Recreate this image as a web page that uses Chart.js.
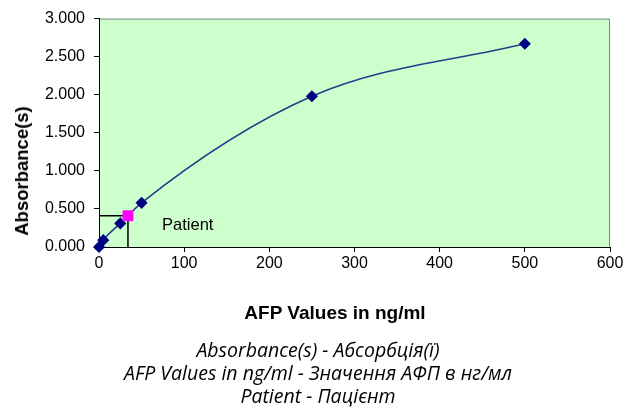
<!DOCTYPE html>
<html>
<head>
<meta charset="utf-8">
<script src="https://cdn.jsdelivr.net/npm/chart.js@4"></script>
<style>
  html, body { margin: 0; padding: 0; background: #ffffff; }
  #wrap { position: relative; width: 636px; height: 408px; }
  #myChart { position: absolute; left: 0; top: 0; }
  .ytitle { position: absolute; left: 22px; top: 171px; transform: translate(-50%, -50%) rotate(-90deg);
    font: bold 18.5px "Liberation Sans", Arial, sans-serif; color: #000; white-space: nowrap; }
  .xtitle { position: absolute; left: 335px; top: 313px; transform: translate(-50%, -50%);
    font: bold 19px "Liberation Sans", Arial, sans-serif; color: #000; white-space: nowrap; }
  .legend { position: absolute; left: 318px; transform: translate(-50%, -50%);
    font: italic 19.5px "Open Sans", sans-serif; color: #000; white-space: nowrap; }
</style>
</head>
<body>
<div id="wrap">
  <canvas id="myChart" width="636" height="408"></canvas>
  <div class="ytitle">Absorbance(s)</div>
  <div class="xtitle">AFP Values in ng/ml</div>
  <div class="legend" style="top:349px">Absorbance(s) - Абсорбція(ї)</div>
  <div class="legend" style="top:372px">AFP Values in ng/ml - Значення АФП в нг/мл</div>
  <div class="legend" style="top:395px">Patient - Пацієнт</div>
</div>
<script>
// standard curve
var afpValues = [0, 5, 25, 50, 250, 500];
var absorbance = [0, 0.09, 0.31, 0.58, 1.98, 2.67];

// patient result
var patientAfp = [34];
var patientAbs = [0.41];
var patientLabel = 'Patient';
var labelPos = { x: 74, y: 0.285 };

var xTicks = [0, 100, 200, 300, 400, 500, 600];
var yTicks = [0, 0.5, 1, 1.5, 2, 2.5, 3];

var curve = [];
for (var i = 0; i < afpValues.length; i++) {
    curve.push({ x: afpValues[i], y: absorbance[i] });
}
var patient = [{ x: patientAfp[0], y: patientAbs[0] }];
var guide = [
    { x: 0, y: patientAbs[0] },
    { x: patientAfp[0], y: patientAbs[0] },
    { x: patientAfp[0], y: 0 }
];

var plotArea = {
    id: 'plotArea',
    beforeDraw: function (chart) {
        var a = chart.chartArea, c = chart.ctx;
        c.save();
        c.fillStyle = '#ccffcc';
        c.fillRect(a.left, a.top, a.right - a.left, a.bottom - a.top);
        c.strokeStyle = '#808080';
        c.lineWidth = 1;
        c.beginPath();
        c.moveTo(a.left, a.top + 0.5);
        c.lineTo(a.right - 0.5, a.top + 0.5);
        c.lineTo(a.right - 0.5, a.bottom);
        c.stroke();
        c.restore();
    },
    afterDatasetsDraw: function (chart) {
        var c = chart.ctx;
        var px = chart.scales.x.getPixelForValue(labelPos.x);
        var py = chart.scales.y.getPixelForValue(labelPos.y);
        c.save();
        c.fillStyle = '#000';
        c.font = '16.5px "Liberation Sans", Arial, sans-serif';
        c.textAlign = 'left';
        c.textBaseline = 'middle';
        c.fillText(patientLabel, px, py);
        c.restore();
    }
};

var ctx = document.getElementById('myChart').getContext('2d');
var myChart = new Chart(ctx, {
    type: 'scatter',
    data: {
        datasets: [
            {
                data: patient,
                clip: false,
                backgroundColor: '#ff00ff',
                pointBackgroundColor: '#ff00ff',
                pointBorderColor: '#ff00ff',
                pointStyle: 'rect',
                pointRadius: 7
            },
            {
                data: curve,
                showLine: true,
                clip: false,
                borderColor: '#2a3a8a',
                borderWidth: 1.5,
                backgroundColor: '#000080',
                pointBackgroundColor: '#000080',
                pointBorderColor: '#000080',
                pointStyle: 'rectRot',
                pointRadius: 5,
                cubicInterpolationMode: 'monotone'
            },
            {
                data: guide,
                showLine: true,
                borderColor: '#000000',
                borderWidth: 1.5,
                pointRadius: 0,
                tension: 0
            }
        ]
    },
    options: {
        responsive: false,
        animation: false,
        layout: { padding: { top: 16, right: 26, left: 0, bottom: 0 } },
        plugins: { legend: { display: false }, tooltip: { enabled: false } },
        scales: {
            x: {
                type: 'linear',
                min: 0,
                max: 600,
                afterFit: function (s) { s.height = 161; },
                afterBuildTicks: function (s) { s.ticks = xTicks.map(function (v) { return { value: v }; }); },
                grid: { display: true, drawOnChartArea: false, drawTicks: true, tickLength: 5, color: '#000' },
                border: { display: true, color: '#000', width: 1 },
                ticks: {
                    color: '#000',
                    padding: 2,
                    font: { family: '"Liberation Sans", Arial, sans-serif', size: 16 }
                }
            },
            y: {
                type: 'linear',
                min: 0,
                max: 3,
                afterFit: function (s) { s.width = 99; },
                afterBuildTicks: function (s) { s.ticks = yTicks.map(function (v) { return { value: v }; }); },
                grid: { display: true, drawOnChartArea: false, drawTicks: true, tickLength: 5, color: '#000' },
                border: { display: true, color: '#000', width: 1 },
                ticks: {
                    color: '#000',
                    padding: 9,
                    font: { family: '"Liberation Sans", Arial, sans-serif', size: 16 },
                    callback: function (v) { return Number(v).toFixed(3); }
                }
            }
        }
    },
    plugins: [plotArea]
});
</script>
</body>
</html>
